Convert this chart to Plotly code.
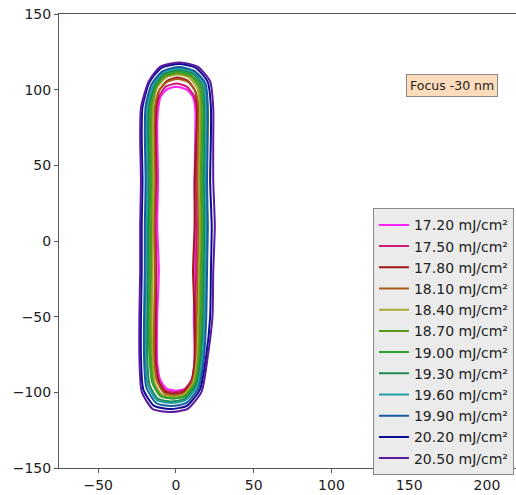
import plotly.graph_objects as go

labels = ["17.20 mJ/cm²", "17.50 mJ/cm²", "17.80 mJ/cm²", "18.10 mJ/cm²",
          "18.40 mJ/cm²", "18.70 mJ/cm²", "19.00 mJ/cm²", "19.30 mJ/cm²",
          "19.60 mJ/cm²", "19.90 mJ/cm²", "20.20 mJ/cm²", "20.50 mJ/cm²"]
colors = ["#ff22ff", "#cc1a78", "#a01818", "#a85c18", "#a8a830", "#5a9a1a",
          "#30a030", "#1a8a50", "#20a0a0", "#1a5aa0", "#0c0c90", "#5a1aa0"]

# contour vertices (x, y) in nm
c1 = [(0,102),(7,100),(11,95),(12.5,86),(12.5,76),(12,40),(12.5,10),(12,-20),(11.5,-50),
      (12,-80),(10,-92),(6,-97.5),(0,-99),(-6,-97.5),(-10,-92),(-12,-80),(-12,-50),(-11,-20),
      (-12,10),(-11.5,40),(-12,76),(-11.5,86),(-10,95),(-6,100),(0,102)]
c2 = [(0.5,104),(7,102),(11.5,96),(13.5,87),(13.5,75),(13,40),(13.5,10),(13,-20),(12.5,-50),
      (12,-79),(10,-92),(5,-98.5),(-1,-100),(-7,-98.5),(-11,-92),(-13,-79),(-13,-50),(-12.5,-20),
      (-13,10),(-12.5,40),(-13,75),(-12.5,87),(-10.5,96),(-6.5,102),(0.5,104)]
c3 = [(1,108),(7.5,106),(12,100),(13.5,91),(13.5,79),(12,40),(12,10),(11,-20),(12,-50),
      (12,-80),(10,-93),(5,-99.5),(-1,-101),(-7,-99.5),(-11,-93),(-13,-80),(-13,-50),(-13,-20),
      (-14,10),(-13,40),(-13,79),(-12.5,91),(-10.5,100),(-5.5,106),(1,108)]
c4 = [(1,107),(8,105),(12.5,99),(14.5,89),(14.5,76),(14,40),(14.5,10),(14,-20),(13.5,-50),
      (13,-80),(10.5,-93),(5.5,-100.5),(-1,-102),(-7.5,-100.5),(-12,-93),(-14,-80),(-14,-50),(-13.5,-20),
      (-14,10),(-13.5,40),(-14,76),(-13.5,89),(-11,99),(-6,105),(1,107)]
c5 = [(1,110),(8.5,108),(13.5,101.5),(15.5,90.5),(15.5,77),(15,40),(15.5,10),(15,-20),(14.5,-50),
      (13.5,-79),(11,-94),(5,-101.5),(-2,-103),(-9,-101.5),(-13.5,-94),(-15,-79),(-15.5,-50),(-15,-20),
      (-15,10),(-14.5,40),(-15,77),(-14.5,90.5),(-12,101.5),(-6.5,108),(1,110)]
c6 = [(1.5,111),(9.5,108.8),(14.8,102),(16.5,90),(16.5,76),(16,40),(16.5,10),(16,-20),(15.5,-50),
      (14.5,-78),(12,-94),(5.5,-102.5),(-2,-104),(-9.5,-102.5),(-14.5,-94),(-16,-78),(-16.5,-50),(-16,-20),
      (-16,10),(-15.5,40),(-16,76),(-15.5,90),(-12.5,102),(-7,108.8),(1.5,111)]
c7 = [(1.5,112),(10,109.7),(15.8,102.5),(17.5,90),(17.5,74.6),(17,40),(17.5,10),(17,-20),(16.5,-50),
      (15.5,-77),(12.8,-93.5),(6,-102.5),(-2,-104),(-10,-102.5),(-15.3,-93.5),(-17,-77),(-17.5,-50),(-17,-20),
      (-17,10),(-16.5,40),(-17,74.6),(-16.5,90),(-13.3,102.5),(-7.5,109.7),(1.5,112)]
c8 = [(2,113),(11,110.6),(17,103),(18.5,89.6),(18.5,73.4),(18,40),(18.5,10),(18,-20),(17.5,-50),
      (16,-77),(13,-95),(5.5,-104.3),(-3,-106),(-11.5,-104.3),(-17,-95),(-18.5,-77),(-18.5,-50),(-18,-20),
      (-18,10),(-17.5,40),(-18,73.4),(-17.5,89.6),(-13.5,103),(-7.5,110.6),(2,113)]
c9 = [(2,114),(11.5,111.5),(18,103.5),(19.5,89.3),(19.5,72.2),(19,40),(19.5,10),(19,-20),(18.5,-50),
      (17,-77),(14,-95.5),(6,-105.3),(-3,-107),(-12,-105.3),(-18,-95.5),(-19.5,-77),(-19.5,-50),(-19,-20),
      (-19,10),(-18.5,40),(-19,72.2),(-18.5,89.3),(-14.5,103.5),(-8,111.5),(2,114)]
c10 = [(2,115),(12,112.3),(19,104),(20.5,89),(20.5,71),(20,40),(20.5,10),(20,-20),(19.5,-50),
       (18,-77),(14.5,-97),(6.5,-107.2),(-3,-109),(-12.5,-107.2),(-19,-97),(-20.5,-77),(-20.5,-50),(-20,-20),
       (-20,10),(-19.5,40),(-20,71),(-19.5,89),(-15.5,104),(-8.5,112.3),(2,115)]
c11 = [(2,117),(13,114.3),(20.5,105),(22.5,88.4),(22.5,68.6),(22,40),(23,10),(22.5,-20),(22,-50),
       (19.5,-76),(15.5,-98),(7,-109),(-4,-111),(-14,-109),(-21,-98),(-22.5,-76),(-22.5,-50),(-22,-20),
       (-22,10),(-21.5,40),(-22,68.6),(-21.5,88.4),(-17,105),(-9.5,114.3),(2,117)]
c12 = [(2.5,118),(14,115.2),(22,105.5),(24,88),(24,67),(24,40),(25,10),(24,-20),(23.5,-50),
       (20.5,-76),(16.5,-99.5),(7.5,-111),(-4,-113),(-15,-111),(-22,-99.5),(-23.5,-76),(-23.5,-50),(-23,-20),
       (-23,10),(-22.5,40),(-23,67),(-22.5,88),(-17.5,105.5),(-10,115.2),(2.5,118)]
contours = [c1, c2, c3, c4, c5, c6, c7, c8, c9, c10, c11, c12]

x_ticks = [-50, 0, 50, 100, 150, 200]
y_ticks = [-150, -100, -50, 0, 50, 100, 150]
annotation_text = "Focus -30 nm"


def fmt(v):
    return ("\u2212" + str(-v)) if v < 0 else str(v)


fig = go.Figure()
for lab, col, pts in zip(labels, colors, contours):
    fig.add_trace(go.Scatter(
        x=[p[0] for p in pts], y=[p[1] for p in pts],
        mode="lines", name=lab, line=dict(color=col, width=2, shape="spline", smoothing=0.6),
    ))

font = dict(family="DejaVu Sans", size=14, color="#222")
fig.update_layout(
    width=516, height=495,
    margin=dict(l=59, r=0, t=14, b=27, autoexpand=False),
    plot_bgcolor="white", paper_bgcolor="white",
    font=font,
    showlegend=True,
    legend=dict(x=0.687, y=0.572, xanchor="left", yanchor="top",
                bgcolor="#ebebeb", bordercolor="#8a8a8a", borderwidth=1,
                font=dict(family="DejaVu Sans", size=14, color="#222"),
                tracegroupgap=0),
    annotations=[dict(x=177.5, y=103, xref="x", yref="y", text=annotation_text,
                      showarrow=False, bgcolor="#fddcbc", bordercolor="#8a8a8a",
                      borderwidth=1, borderpad=3,
                      font=dict(family="DejaVu Sans", size=12.5, color="#222"))],
)
fig.update_xaxes(range=[-75.2, 218.7], tickvals=x_ticks, ticktext=[fmt(v) for v in x_ticks],
                 showgrid=False, zeroline=False, showline=True, linecolor="#555", linewidth=1,
                 mirror=True, ticks="outside", ticklen=4, tickcolor="#555")
fig.update_yaxes(range=[-150, 150], tickvals=y_ticks, ticktext=[fmt(v) for v in y_ticks],
                 showgrid=False, zeroline=False, showline=True, linecolor="#555", linewidth=1,
                 mirror=False, ticks="outside", ticklen=4, tickcolor="#555")

fig.write_html("out.html", config={"displayModeBar": False},
               post_script="document.body.style.margin='0';document.body.style.overflow='hidden';")
